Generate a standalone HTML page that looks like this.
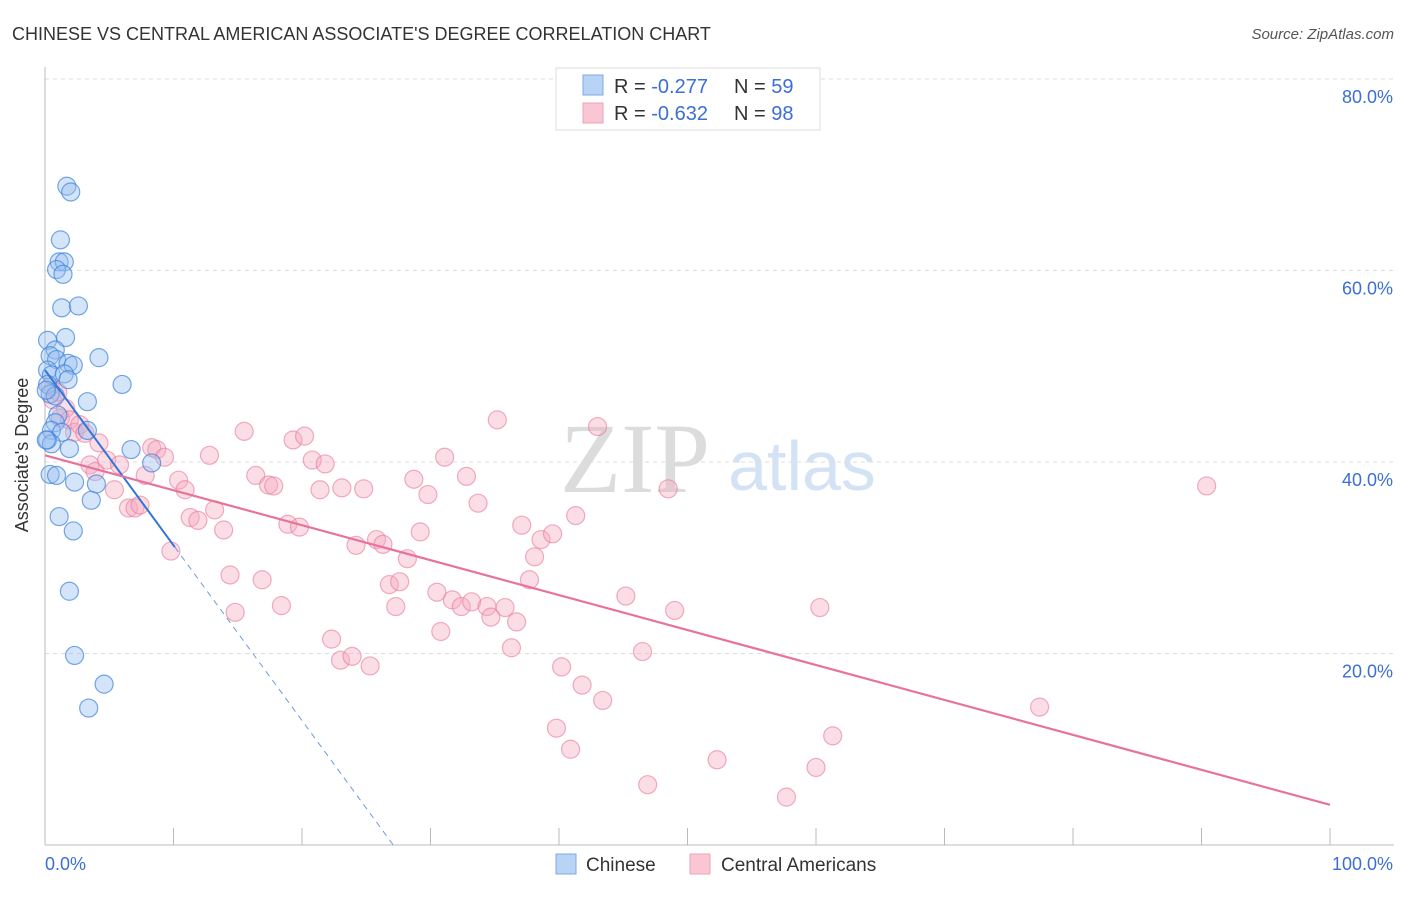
<!DOCTYPE html>
<html><head><meta charset="utf-8"><style>
body{margin:0;background:#fff;font-family:"Liberation Sans",sans-serif}
svg text{font-family:"Liberation Sans",sans-serif}
</style></head><body>
<svg id="chart" width="1406" height="892" xmlns="http://www.w3.org/2000/svg">
<text x="12" y="40" font-size="18" fill="#333">CHINESE VS CENTRAL AMERICAN ASSOCIATE'S DEGREE CORRELATION CHART</text>
<text x="1394" y="39" font-size="15" fill="#555" text-anchor="end" font-style="italic">Source: ZipAtlas.com</text>
<text x="635" y="492" font-size="100" fill="#dcdcdc" text-anchor="middle" font-family="Liberation Serif" style="font-family:'Liberation Serif',serif">ZIP</text>
<text x="802" y="490" font-size="70" fill="#d4e2f5" text-anchor="middle">atlas</text>
<g id="grid"></g><g id="axes"></g><g id="pts"></g><g id="lines"></g>
<text x="28" y="455" font-size="18" fill="#333" text-anchor="middle" transform="rotate(-90 28 455)">Associate's Degree</text>
<g>
<rect x="556" y="68" width="264" height="62" fill="#fff" stroke="#ddd"/>
<rect x="583" y="75" width="20" height="20" fill="#b9d3f5" stroke="#7eaae6"/>
<rect x="583" y="103" width="20" height="20" fill="#f9c6d4" stroke="#eea0b8"/>
<text x="614" y="93" font-size="20" fill="#333">R = <tspan fill="#3b6fd4">-0.277</tspan></text>
<text x="734" y="93" font-size="20" fill="#333">N = <tspan fill="#3b6fd4">59</tspan></text>
<text x="614" y="120" font-size="20" fill="#333">R = <tspan fill="#3b6fd4">-0.632</tspan></text>
<text x="734" y="120" font-size="20" fill="#333">N = <tspan fill="#3b6fd4">98</tspan></text>
</g>
<g>
<rect x="556" y="854" width="20" height="20" fill="#b9d3f5" stroke="#7eaae6"/>
<text x="586" y="871" font-size="19" fill="#333">Chinese</text>
<rect x="690" y="854" width="20" height="20" fill="#f9c6d4" stroke="#eea0b8"/>
<text x="721" y="871" font-size="19" fill="#333">Central Americans</text>
</g>
</svg>
<script>
const blueX=[1.7,2.0,1.2,1.1,1.5,0.9,1.4,1.3,2.6,0.2,1.6,0.8,0.4,0.9,1.8,2.2,4.2,6.0,0.2,0.5,1.5,1.8,0.2,0.4,0.8,3.3,1.0,0.8,0.5,3.3,1.3,0.2,0.5,1.9,6.7,8.3,0.4,0.9,2.3,4.0,3.6,1.1,2.2,1.9,2.3,4.6,3.4,0.1,0.1];
const blueY=[68.8,68.2,63.2,60.9,60.9,60.1,59.6,56.1,56.3,52.7,53.0,51.7,51.1,50.7,50.3,50.1,50.9,48.1,49.6,49.1,49.2,48.6,48.1,47.1,46.9,46.3,44.9,44.1,43.3,43.3,43.1,42.3,41.9,41.4,41.3,39.9,38.7,38.6,37.9,37.7,36.0,34.3,32.8,26.5,19.8,16.8,14.3,47.5,42.3];
const pinkX=[0.6,1.0,1.6,1.2,1.9,2.3,2.7,3.1,4.2,3.5,3.9,4.8,5.4,5.8,6.5,7.0,7.4,7.8,8.3,8.7,9.3,9.8,10.4,10.9,11.3,11.9,12.8,13.2,13.9,14.4,14.8,15.5,16.4,16.9,17.4,17.8,18.4,18.9,19.3,19.8,20.2,20.8,21.4,21.8,22.3,23.0,23.1,23.9,24.2,24.8,25.3,25.8,26.3,26.8,27.3,27.6,28.2,28.7,29.2,29.8,30.5,30.8,31.1,31.7,32.4,32.8,33.2,33.7,34.4,34.7,35.2,35.8,36.3,36.7,37.1,38.1,37.7,38.6,39.5,39.8,40.2,40.9,41.3,41.8,43.0,43.4,45.2,46.5,46.9,48.5,49.0,52.3,57.7,60.0,60.3,61.3,77.4,90.4,0.4];
const pinkY=[46.5,47.3,45.6,44.6,44.4,43.1,43.9,43.0,42.0,39.7,39.0,40.2,37.1,39.7,35.2,35.2,35.5,38.6,41.5,41.3,40.5,30.7,38.1,37.1,34.2,33.9,40.7,35.0,32.9,28.2,24.3,43.2,38.6,27.7,37.6,37.5,25.0,33.5,42.3,33.2,42.7,40.2,37.1,39.8,21.5,19.3,37.3,19.7,31.3,37.2,18.7,31.9,31.4,27.2,24.9,27.5,29.9,38.2,32.7,36.6,26.4,22.3,40.5,25.6,24.9,38.5,25.4,35.7,24.9,23.8,44.4,24.8,20.6,23.3,33.4,30.1,27.7,31.9,32.5,12.2,18.6,10.0,34.4,16.7,43.7,15.1,26.0,20.2,6.3,37.2,24.5,8.9,5.0,8.1,24.8,11.4,14.4,37.5,47.9];
const yTicks=[20,40,60,80];
const yTickLabels=["20.0%","40.0%","60.0%","80.0%"];
const blueFit=[49.6,-1.83];
const pinkFit=[40.7,-0.365];
const NS="http://www.w3.org/2000/svg";
const sx=v=>45+v*12.85, sy=v=>845-v*9.575;
function mk(t,a,p){const e=document.createElementNS(NS,t);for(const k in a)e.setAttribute(k,a[k]);document.getElementById(p).appendChild(e);return e;}
yTicks.forEach((t,i)=>{
 const g=mk('line',{x1:45,x2:1394,y1:sy(t),y2:sy(t),stroke:'#ddd','stroke-dasharray':'4 4'},'grid');
 
 
 const l=mk('text',{x:1393,y:sy(t)+24,'font-size':18,fill:'#3b6fd4','text-anchor':'end'},'axes');
 l.textContent=yTickLabels[i];
 
 
});
const ax=mk('line',{x1:45,x2:45,y1:67,y2:845,stroke:'#bbb'},'axes');


const bx=mk('line',{x1:45,x2:1394,y1:845,y2:845,stroke:'#bbb'},'axes');


for(let i=1;i<=10;i++){const t=mk('line',{x1:sx(i*10),x2:sx(i*10),y1:828,y2:845,stroke:'#bbb'},'axes');
 
 }
[[45,'0.0%','start'],[1393,'100.0%','end']].forEach(([x,s,a])=>{const t=mk('text',{x:x,y:870,'font-size':18,fill:'#3b6fd4','text-anchor':a},'axes');t.textContent=s;
 
 });
pinkX.forEach((x,i)=>{const c=mk('circle',{cx:sx(x),cy:sy(pinkY[i]),r:9,fill:'rgba(245,170,192,0.4)',stroke:'rgba(232,120,155,0.6)','stroke-width':1.2},'pts');
 
 });
blueX.forEach((x,i)=>{const c=mk('circle',{cx:sx(x),cy:sy(blueY[i]),r:9,fill:'rgba(150,190,240,0.4)',stroke:'rgba(60,130,220,0.7)','stroke-width':1.2},'pts');
 
 });
const bEnd=10.1, bZero=-blueFit[0]/blueFit[1];
const l1=mk('line',{x1:sx(0),y1:sy(blueFit[0]),x2:sx(bEnd),y2:sy(blueFit[0]+blueFit[1]*bEnd),stroke:'#3575d6','stroke-width':2},'lines');


const l2=mk('line',{x1:sx(bEnd),y1:sy(blueFit[0]+blueFit[1]*bEnd),x2:sx(bZero),y2:sy(0),stroke:'#6a9be0','stroke-width':1,'stroke-dasharray':'6 5'},'lines');


const l3=mk('line',{x1:sx(0),y1:sy(pinkFit[0]),x2:sx(100),y2:sy(pinkFit[0]+pinkFit[1]*100),stroke:'#e8739a','stroke-width':2.2},'lines');


</script>
</body></html>
